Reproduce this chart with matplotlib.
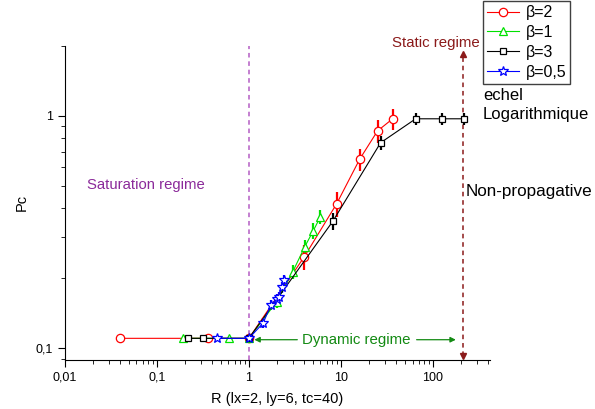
import numpy as np
import matplotlib
matplotlib.use("Agg")
from matplotlib import pyplot as plt
from matplotlib.ticker import FixedLocator, FixedFormatter, LogLocator, NullFormatter

plt.rcParams['font.family'] = ['Liberation Sans', 'DejaVu Sans']

# donnees
r_b2 = [0.04, 0.36, 1.0, 4.0, 9.0, 16.0, 25.0, 36.5]
pc_b2 = [0.11, 0.11, 0.11, 0.247, 0.418, 0.65, 0.86, 0.97]
err_b2 = [0.0, 0.0, 0.0, 0.03, 0.05, 0.07, 0.10, 0.10]

r_b1 = [0.19, 0.61, 1.0, 2.0, 3.0, 4.05, 5.0, 6.0]
pc_b1 = [0.11, 0.11, 0.11, 0.158, 0.213, 0.273, 0.319, 0.368]
err_b1 = [0.0, 0.0, 0.0, 0.01, 0.015, 0.02, 0.025, 0.025]

r_b3 = [0.217, 0.32, 1.0, 8.2, 27.0, 65.0, 125.0, 215.0]
pc_b3 = [0.11, 0.11, 0.11, 0.352, 0.765, 0.97, 0.97, 0.97]
err_b3 = [0.0, 0.0, 0.0, 0.03, 0.05, 0.06, 0.06, 0.06]

r_b05 = [0.45, 1.0, 1.43, 1.73, 2.0, 2.12, 2.28, 2.4]
pc_b05 = [0.11, 0.11, 0.128, 0.153, 0.163, 0.166, 0.183, 0.196]
err_b05 = [0.0, 0.0, 0.006, 0.008, 0.008, 0.008, 0.01, 0.01]

x_ticks = [0.01, 0.1, 1, 10, 100]
x_labels = ['0,01', '0,1', '1', '10', '100']
y_ticks = [0.1, 1]
y_labels = ['0,1', '1']

fig = plt.figure(figsize=(5.95, 4.09), dpi=100)
ax = fig.add_axes([0.109, 0.12, 0.715, 0.768])
ax.set_xscale('log')
ax.set_yscale('log')
ax.set_xlim(0.01, 420)
ax.set_ylim(0.0888, 2.0)

series = [
    (r_b2, pc_b2, err_b2, 'red', 'o', 6, 'β=2'),
    (r_b1, pc_b1, err_b1, '#00e000', '^', 6, 'β=1'),
    (r_b3, pc_b3, err_b3, 'black', 's', 4.5, 'β=3'),
    (r_b05, pc_b05, err_b05, 'blue', '*', 7, 'β=0,5'),
]
handles = []
for x, y, e, c, m, ms, lab in series:
    ax.errorbar(x, y, yerr=e, fmt='none', ecolor=c, elinewidth=1.6, capsize=0, zorder=3)
    h, = ax.plot(x, y, color=c, lw=0.8, marker=m, ms=ms, mfc='white',
                 mec=c, mew=0.9, label=lab, zorder=4)
    handles.append(h)

# lignes verticales
ax.axvline(1, color='#b45cc4', ls=(0, (3, 2.5)), lw=1.1, zorder=1)
ax.vlines(210, 0.092, 1.85, color='#8b1a1a', ls=(0, (3, 2.5)), lw=1.1, zorder=1)
ax.plot([210], [1.85], marker='^', color='#8b1a1a', ms=4.5, zorder=2)
ax.plot([210], [0.092], marker='v', color='#8b1a1a', ms=4.5, zorder=2)

# regime dynamique
green = '#138a13'
ax.text(14.6, 0.1085, 'Dynamic regime', color=green, fontsize=10.8,
        ha='center', va='center')
ax.annotate('', xy=(1.07, 0.1085), xytext=(3.6, 0.1085),
            arrowprops=dict(arrowstyle='-|>', color=green, lw=0.9,
                            mutation_scale=8))
ax.annotate('', xy=(190, 0.1085), xytext=(62, 0.1085),
            arrowprops=dict(arrowstyle='-|>', color=green, lw=0.9,
                            mutation_scale=8))

fig.text(87 / 595, 1 - 185 / 409, 'Saturation regime', color='#8b2a9a',
         fontsize=10.7, va='center')
fig.text(436 / 595, 1 - 43 / 409, 'Static regime', color='#8b1a1a',
         fontsize=10.8, ha='center', va='center')
fig.text(483 / 595, 1 - 95 / 409, 'echel', fontsize=12, va='center')
fig.text(483 / 595, 1 - 114 / 409, 'Logarithmique', fontsize=12, va='center')
fig.text(466 / 595, 1 - 192 / 409, 'Non-propagative', fontsize=12.3, va='center')

ax.spines['top'].set_visible(False)
ax.spines['right'].set_visible(False)
ax.xaxis.set_major_locator(FixedLocator(x_ticks))
ax.xaxis.set_major_formatter(FixedFormatter(x_labels))
ax.xaxis.set_minor_locator(LogLocator(base=10, subs=np.arange(2, 10)))
ax.xaxis.set_minor_formatter(NullFormatter())
ax.yaxis.set_major_locator(FixedLocator(y_ticks))
ax.yaxis.set_major_formatter(FixedFormatter(y_labels))
ax.yaxis.set_minor_locator(LogLocator(base=10, subs=np.arange(2, 10)))
ax.yaxis.set_minor_formatter(NullFormatter())
ax.tick_params(which='major', direction='out', length=5, labelsize=9)
ax.tick_params(which='minor', direction='out', length=3)

ax.set_xlabel('R (lx=2, ly=6, tc=40)', fontsize=10.5, labelpad=6)
ax.set_ylabel('Pc', fontsize=10.5, labelpad=5)

leg = fig.legend(handles=handles, loc='upper right',
                 bbox_to_anchor=(0.958, 0.997), fontsize=11.5,
                 fancybox=False, edgecolor='#404040', framealpha=1,
                 handlelength=2.0, handletextpad=0.4, borderpad=0.25,
                 labelspacing=0.3, borderaxespad=0)
leg.get_frame().set_linewidth(1.0)

fig.savefig('out.png', dpi=100)
